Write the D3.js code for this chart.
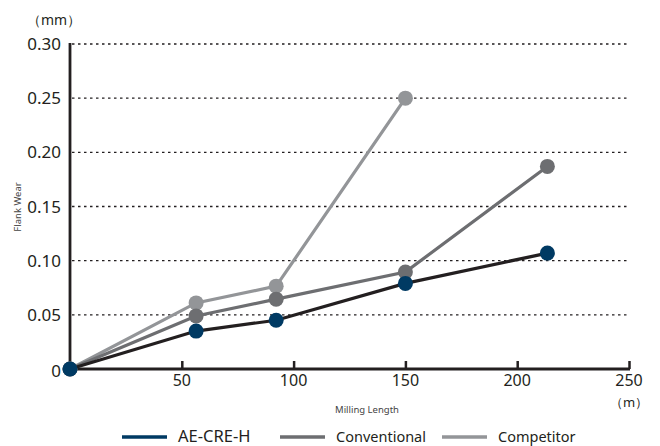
<!DOCTYPE html>
<html><head><meta charset="utf-8">
<script src="https://cdn.jsdelivr.net/npm/d3@7"></script>
<style>body{margin:0;background:#fff}svg{display:block}text{font-family:"Noto Sans",sans-serif;fill:#231f20}</style>
</head><body>
<script>
const lengths = [0, 56.4, 92.2, 150, 213.5];
const aeCreH = [0, 0.035, 0.045, 0.079, 0.107];
const conventional = [0, 0.049, 0.0645, 0.0895, 0.187];
const competitor = [0, 0.061, 0.0765, 0.25];
const xTicks = [50, 100, 150, 200, 250];
const yTicks = [0.05, 0.10, 0.15, 0.20, 0.25, 0.30];
const seriesNames = ["AE-CRE-H", "Conventional", "Competitor"];

const W = 660, H = 446;
const svg = d3.select("body").append("svg").attr("width", W).attr("height", H);
const x = d3.scaleLinear().domain([0, 250]).range([70, 629]);
const y = d3.scaleLinear().domain([0, 0.30]).range([369, 44]);

// grid
svg.append("g").selectAll("line").data(yTicks).join("line")
  .attr("x1", 72).attr("x2", 627).attr("y1", d => y(d)).attr("y2", d => y(d))
  .attr("stroke", "#231f20").attr("stroke-width", 1.3).attr("stroke-dasharray", "2.5,3.5");

// y labels
svg.append("g").selectAll("text").data(yTicks).join("text")
  .attr("x", 61).attr("y", d => y(d)).attr("dy", "0.36em").attr("text-anchor", "end")
  .attr("font-size", 17).text(d => d.toFixed(2));
svg.append("text").attr("x", 61).attr("y", y(0)).attr("dy", "0.45em").attr("text-anchor", "end").attr("font-size", 17).text("0");

// axes
const xAxis = d3.axisTop(x).tickValues(xTicks).tickSize(8).tickFormat("");
const gx = svg.append("g").attr("transform", `translate(0,${y(0)})`).call(xAxis);
gx.select(".domain").remove();
gx.selectAll("line").attr("stroke", "#231f20").attr("stroke-width", 2.5);
svg.append("line").attr("x1", 70).attr("x2", 630).attr("y1", y(0)).attr("y2", y(0)).attr("stroke", "#231f20").attr("stroke-width", 2.8);
svg.append("line").attr("x1", 70).attr("x2", 70).attr("y1", 43).attr("y2", 370).attr("stroke", "#231f20").attr("stroke-width", 2.8);

svg.append("g").selectAll("text").data(xTicks).join("text")
  .attr("x", d => x(d)).attr("y", 386).attr("text-anchor", "middle").attr("font-size", 16).text(d => d);

svg.append("text").attr("x", 27).attr("y", 25).attr("font-size", 14).text("（mm）");
svg.append("text").attr("x", 629).attr("y", 407).attr("text-anchor", "middle").attr("font-size", 13).text("（m）");
svg.append("text").attr("x", 367).attr("y", 413).attr("text-anchor", "middle").attr("font-size", 9.5).style("fill", "#444").text("Milling Length");
svg.append("text").attr("transform", "translate(21,207) rotate(-90)").attr("text-anchor", "middle").attr("font-size", 9.5).style("fill", "#444").text("Flank Wear");

const series = [
  {name: seriesNames[2], vals: competitor, line: "#939598", dot: "#939598"},
  {name: seriesNames[1], vals: conventional, line: "#6d6e71", dot: "#6d6e71"},
  {name: seriesNames[0], vals: aeCreH, line: "#231f20", dot: "#003a63"}
];
const line = d3.line().x(d => x(d[0])).y(d => y(d[1]));
series.forEach(s => {
  const pts = s.vals.map((v, i) => [lengths[i], v]);
  svg.append("path").datum(pts).attr("d", line).attr("fill", "none").attr("stroke", s.line).attr("stroke-width", 3.2);
  svg.append("g").selectAll("circle").data(pts).join("circle")
    .attr("cx", d => x(d[0])).attr("cy", d => y(d[1])).attr("r", 7.5).attr("fill", s.dot);
});

// legend
const legend = [
  {name: seriesNames[0], color: "#003a63", x1: 122, size: 16.5},
  {name: seriesNames[1], color: "#6d6e71", x1: 280, size: 14.5},
  {name: seriesNames[2], color: "#939598", x1: 442, size: 14.5}
];
legend.forEach(l => {
  svg.append("line").attr("x1", l.x1).attr("x2", l.x1 + 45).attr("y1", 437).attr("y2", 437).attr("stroke", l.color).attr("stroke-width", 3.5);
  svg.append("text").attr("x", l.x1 + 56).attr("y", 442).attr("font-size", l.size).text(l.name);
});
</script>
</body></html>
